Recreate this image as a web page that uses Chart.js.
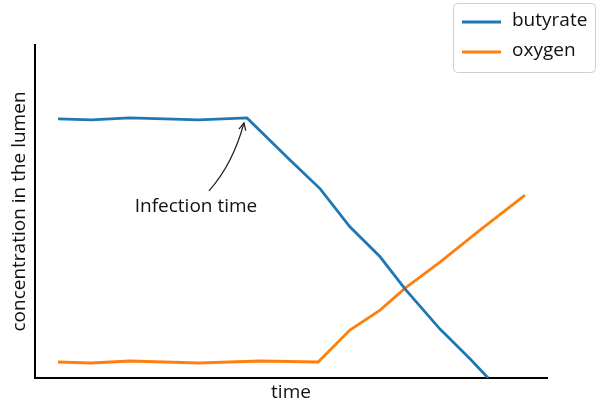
<!DOCTYPE html>
<html>
<head>
<meta charset="utf-8">
<script src="https://cdn.jsdelivr.net/npm/chart.js@4"></script>
<style>
  html, body { margin: 0; padding: 0; background: #fff; }
  #wrap { width: 597px; height: 405px; }
</style>
</head>
<body>
<div id="wrap"><canvas id="chart" width="597" height="405"></canvas></div>
<script>
// data (time 0..100, concentration 0..100)
const butyrateT = [4.5, 11, 18.5, 32, 41.4, 49.8, 55.7, 61.5, 67.4, 72.3, 79.1, 85, 88.5];
const butyrateV = [77.8, 77.5, 78.1, 77.5, 78.1, 65.5, 56.8, 45.4, 36.4, 26.7, 14.7, 5.7, 0];
const oxygenT = [4.5, 11, 18.5, 32, 44, 55.3, 61.5, 67.4, 72.3, 79.1, 86.9, 95.7];
const oxygenV = [4.8, 4.5, 5.1, 4.5, 5.1, 4.8, 14.4, 20.4, 27, 34.8, 44.4, 54.9];
const seriesNames = ['butyrate', 'oxygen'];
const seriesColors = ['#1f77b4', '#ff7f0e'];
const xTitle = 'time';
const yTitle = 'concentration in the lumen';
const noteText = 'Infection time';
const noteAt = [41.4, 77.8];

const FONT = '"Open Sans", Lato, sans-serif';
const FSIZE = 19;

function pts(ts, vs) {
    return ts.map((t, i) => ({ x: t, y: vs[i] }));
}

// arrow + text for the infection point
const notePlugin = {
    id: 'note',
    afterDatasetsDraw(chart) {
        const ctx = chart.ctx;
        const xs = chart.scales.x, ys = chart.scales.y;
        const px = xs.getPixelForValue(noteAt[0]);
        const py = ys.getPixelForValue(noteAt[1]);
        const tipX = px - 3, tipY = py + 4;
        const tailX = px - 38, tailY = py + 72;
        ctx.save();
        ctx.strokeStyle = '#222';
        ctx.lineWidth = 1.3;
        ctx.beginPath();
        ctx.moveTo(tailX, tailY);
        ctx.quadraticCurveTo(px - 14, py + 45, tipX, tipY);
        ctx.stroke();
        // head
        const ang = Math.atan2(tipY - (py + 30), tipX - (px - 9));
        ctx.beginPath();
        ctx.moveTo(tipX - 8 * Math.cos(ang - 0.45), tipY - 8 * Math.sin(ang - 0.45));
        ctx.lineTo(tipX, tipY);
        ctx.lineTo(tipX - 8 * Math.cos(ang + 0.45), tipY - 8 * Math.sin(ang + 0.45));
        ctx.stroke();
        ctx.fillStyle = '#111';
        ctx.font = FSIZE + 'px ' + FONT;
        ctx.textAlign = 'center';
        ctx.textBaseline = 'middle';
        ctx.fillText(noteText, px - 51, py + 88);
        ctx.restore();
    }
};

// legend box at top right
const legendPlugin = {
    id: 'boxLegend',
    afterDraw(chart) {
        const ctx = chart.ctx;
        ctx.save();
        const x0 = 453, y0 = 3, w = 142, h = 69;
        ctx.fillStyle = 'rgba(255,255,255,0.9)';
        ctx.strokeStyle = '#d0d0d0';
        ctx.lineWidth = 1;
        ctx.beginPath();
        ctx.roundRect(x0 + 0.5, y0 + 0.5, w, h, 4);
        ctx.fill();
        ctx.stroke();
        ctx.font = FSIZE + 'px ' + FONT;
        ctx.textBaseline = 'middle';
        chart.data.datasets.forEach((ds, i) => {
            const y = 22 + i * 30;
            ctx.strokeStyle = ds.borderColor;
            ctx.lineWidth = 2.8;
            ctx.beginPath();
            ctx.moveTo(462, y);
            ctx.lineTo(501, y);
            ctx.stroke();
            ctx.fillStyle = '#111';
            ctx.fillText(ds.label, 512, y - 1);
        });
        ctx.restore();
    }
};

new Chart(document.getElementById('chart'), {
    type: 'line',
    data: {
        datasets: [
            { label: seriesNames[0], data: pts(butyrateT, butyrateV), borderColor: seriesColors[0], borderWidth: 2.8, pointRadius: 0, tension: 0 },
            { label: seriesNames[1], data: pts(oxygenT, oxygenV), borderColor: seriesColors[1], borderWidth: 2.8, pointRadius: 0, tension: 0 }
        ]
    },
    options: {
        responsive: false,
        animation: false,
        layout: { padding: { top: 45, right: 50, left: 0, bottom: 0 } },
        plugins: { legend: { display: false }, tooltip: { enabled: false } },
        scales: {
            x: {
                type: 'linear', min: 0, max: 100,
                grid: { display: false },
                border: { display: true, color: '#000', width: 2 },
                ticks: { display: false },
                title: { display: true, text: xTitle, color: '#111', font: { family: FONT, size: FSIZE }, padding: { top: 0, bottom: 1 } },
                afterFit(scale) { scale.height = 27; }
            },
            y: {
                type: 'linear', min: 0, max: 100,
                grid: { display: false },
                border: { display: true, color: '#000', width: 2 },
                ticks: { display: false },
                title: { display: true, text: yTitle, color: '#111', font: { family: FONT, size: FSIZE }, padding: { top: 8, bottom: 0 } },
                afterFit(scale) { scale.width = 35; }
            }
        }
    },
    plugins: [notePlugin, legendPlugin]
});
</script>
</body>
</html>
